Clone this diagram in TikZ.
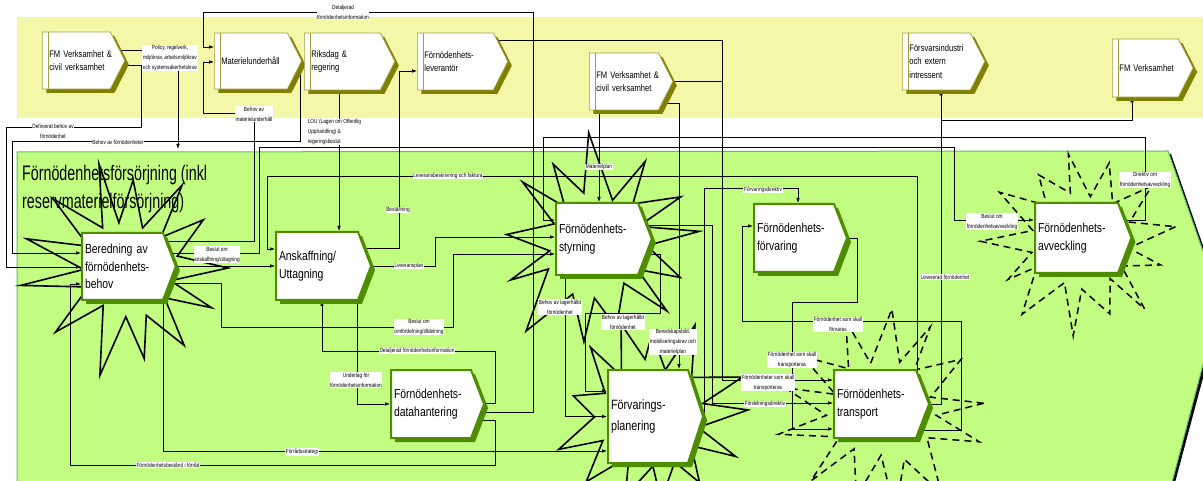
\documentclass[tikz,border=0pt]{standalone}
\usepackage{fontspec}
\newfontfamily\condsans{Liberation Sans}[FakeStretch=0.8]
\newfontfamily\titlesans{Liberation Sans}[FakeStretch=0.68]
\usetikzlibrary{shapes.symbols,shadows,arrows.meta}
\definecolor{bandyellow}{HTML}{F4F6A8}
\definecolor{groupgreen}{HTML}{C2FC80}
\definecolor{groupedge}{HTML}{5CC05C}
\definecolor{extedge}{HTML}{A0A040}
\definecolor{extshade}{HTML}{808000}
\definecolor{procedge}{HTML}{4E8C00}
\pgfdeclarelayer{back}
\pgfdeclarelayer{wires}
\pgfsetlayers{back,wires,main}
\tikzset{
  ext/.style={signal, signal to=east, signal from=nowhere, signal pointer angle=126,
    draw=extedge, line width=0.7pt, fill=white, anchor=west, inner xsep=7pt, inner ysep=1pt,
    align=left, font=\condsans\fontsize{9.5}{13.5}\selectfont,
    drop shadow={opacity=1, fill=extshade, shadow xshift=4pt, shadow yshift=-4pt}},
  proc/.style={signal, signal to=east, signal from=nowhere, signal pointer angle=138,
    draw=procedge, line width=2pt, fill=white, anchor=west, inner xsep=3pt, inner ysep=1pt,
    align=left, font=\condsans\fontsize{13}{17.5}\selectfont,
    drop shadow={opacity=1, fill=procedge, shadow xshift=4pt, shadow yshift=-4pt}},
  lbl/.style={fill=white, inner sep=0.6pt, align=center, font=\condsans\fontsize{6}{10}\selectfont},
  flow/.style={-{Latex[length=5pt,width=3.6pt]}, line width=0.7pt},
  burst/.style={line width=1.6pt},
  dburst/.style={line width=1.5pt, dash pattern=on 7pt off 5pt},
}
\begin{document}
\begin{tikzpicture}[x=1pt, y=-1pt]
  \useasboundingbox (0,0) rectangle (1203,481);

  \node[ext, text width=54pt, minimum height=57pt] (a1) at (42,60.5) {\mbox{FM Verksamhet \&}\\\mbox{civil verksamhet}};
  \node[ext, text width=59pt, minimum height=56pt] (a2) at (214,61) {\mbox{Materielunderhåll}};
  \node[ext, text width=62pt, minimum height=57pt] (a3) at (304,61.5) {\mbox{Riksdag \&}\\regering};
  \node[ext, text width=62pt, minimum height=57pt] (a4) at (417,61.5) {\mbox{Förnödenhets-}\\\mbox{leverantör}};
  \node[ext, text width=55pt, minimum height=57pt] (a5) at (589,81.5) {\mbox{FM Verksamhet \&}\\\mbox{civil verksamhet}};
  \node[ext, text width=54pt, minimum height=57pt] (a6) at (902,61.5) {\mbox{Försvarsindustri}\\\mbox{och extern}\\\mbox{intressent}};
  \node[ext, text width=52pt, minimum height=58pt] (a7) at (1112,68) {\mbox{FM Verksamhet}};
  \foreach \n in {a1,a2,a3,a4,a5,a6,a7}
    \draw[extedge, line width=0.7pt] ([xshift=6pt]\n.north west) -- ([xshift=6pt]\n.south west);

  \node[anchor=north west, inner sep=0pt, align=left, font=\titlesans\fontsize{21}{28}\selectfont] (title) at (22,165)
    {Förnödenhetsförsörjning (inkl\\reservmaterielförsörjning)};

  \node[proc, text width=75pt, minimum height=67pt] (p1) at (81,266.5) {\mbox{Beredning av}\\\mbox{förnödenhets-}\\behov};
  \node[proc, text width=76pt, minimum height=68pt] (p2) at (275,266) {\mbox{Anskaffning/}\\\mbox{Uttagning}};
  \node[proc, text width=76pt, minimum height=72pt] (p3) at (555,239) {\mbox{Förnödenhets-}\\\mbox{styrning}};
  \node[proc, text width=74pt, minimum height=68pt] (p4) at (753,238) {\mbox{Förnödenhets-}\\\mbox{förvaring}};
  \node[proc, text width=77pt, minimum height=70pt] (p5) at (1034,238) {\mbox{Förnödenhets-}\\\mbox{avveckling}};
  \node[proc, text width=74pt, minimum height=68pt] (p6) at (390,404) {\mbox{Förnödenhets-}\\\mbox{datahantering}};
  \node[proc, text width=74pt, minimum height=93pt, signal pointer angle=144,
        font=\condsans\fontsize{13.5}{21}\selectfont] (p7) at (607,416.5) {\mbox{Förvarings-}\\\mbox{planering}};
  \node[proc, text width=76pt, minimum height=68pt] (p8) at (833,404) {\mbox{Förnödenhets-}\\\mbox{transport}};

  \begin{pgfonlayer}{back}
    \fill[bandyellow] (17,17) rectangle (1210,118);
    \fill[black] (20,155) -- (1171,154) -- (1223,303) -- (1173,490) -- (20,490) -- cycle;
    \filldraw[fill=groupgreen, draw=groupedge, line width=1pt] (17,152) -- (1168,151) -- (1220,300) -- (1170,490) -- (17,490) -- cycle;
    \pgfmathsetseed{4}
    \draw[burst, shift={(128,268)}] (0:100) \foreach \i in {1,...,25}
      {-- ({\i*360/26+5*rand}:{isodd(\i)*(47+6*rand)+(1-isodd(\i))*(98+16*rand)})} -- cycle;
    \pgfmathsetseed{9}
    \draw[burst, shift={(596,244)}, rotate=7] (0:104) \foreach \i in {1,...,25}
      {-- ({\i*360/26+5*rand}:{isodd(\i)*(50+6*rand)+(1-isodd(\i))*(100+16*rand)})} -- cycle;
    \pgfmathsetseed{21}
    \draw[burst, shift={(652,415)}, rotate=3] (0:96) \foreach \i in {1,...,25}
      {-- ({\i*360/26+5*rand}:{isodd(\i)*(52+6*rand)+(1-isodd(\i))*(94+14*rand)})} -- cycle;
    \pgfmathsetseed{33}
    \draw[dburst, shift={(1082,242)}, xscale=.95, yscale=.88, rotate=10] (0:100) \foreach \i in {1,...,25}
      {-- ({\i*360/26+5*rand}:{isodd(\i)*(52+5*rand)+(1-isodd(\i))*(98+12*rand)})} -- cycle;
    \pgfmathsetseed{47}
    \draw[dburst, shift={(882,410)}, yscale=.95, rotate=4] (0:102) \foreach \i in {1,...,25}
      {-- ({\i*360/26+5*rand}:{isodd(\i)*(52+5*rand)+(1-isodd(\i))*(100+12*rand)})} -- cycle;
  \end{pgfonlayer}

  \begin{pgfonlayer}{wires}
    \draw[flow] ([yshift=10.5pt]a1.center) -| (178,149);
    \draw[flow] ([yshift=-4.5pt]a1.center) -| (141,127) -| (6,267) -- ([yshift=-0.5pt]p1.west);
    \draw[flow] (a2.center) -| (300,141) -| (12,253) -- ([yshift=13.5pt]p1.west);
    \draw[flow] ([yshift=25.5pt]p1.center) -| (254,113) -| (203,62) -- ([yshift=-1pt]a2.west);
    \draw[flow] ([yshift=-8pt]p6.center) -| (533,12) -| (203,47) -- ([yshift=14pt]a2.west);
    \draw[flow] ([yshift=-16pt]p6.center) -| (495,465) -| (70,284) -- ([yshift=-17.5pt]p1.west);
    \draw[flow] (p1.center |- p2.west) -- (p2.west);
    \draw[flow] ([yshift=13.5pt]p1.center) -| (259,147) -| (954,220) -- ([yshift=18pt]p5.west);
    \draw[flow] ([yshift=18pt]p5.center) -| (1145,137) -| (543,220) -- ([yshift=19pt]p3.west);
    \draw[flow] ([xshift=84pt]p8.west) |- (267,176) |- ([yshift=17pt]p2.west);
    \draw[flow] (p8.center) -| (a6.south -| 941,0);
    \coordinate (split) at (941,120);
    \draw[flow] (split) -| (a7.south -| 1132,0);
    \draw[flow] ([yshift=-26pt]p8.center) -| (961,321) -| (742,226) -- ([yshift=12pt]p4.west);
    \draw[flow] (p4.east) -| (857,302) -| (792,429) -- ([yshift=-25pt]p8.west);
    \draw[flow] ([yshift=21.5pt]a4.center) -| (722,380) -- ([yshift=24pt]p8.west);
    \draw[line width=0.7pt] (a5.east) -- (a5.east -| 722,0);
    \draw[flow] ([yshift=14pt]p3.center) -| (712,403) -- ([yshift=1pt]p8.west);
    \draw[flow] (p7.east) |- (798,188) -- (p4.north -| 798,0);
    \draw[flow] (a5.south -| 599,0) -- (p3.north -| 599,0);
    \draw[flow] ([yshift=-21.5pt]a5.center) -| (p7.north -| 679,0);
    \draw[flow] (a3.south -| 339,0) -- (p2.north -| 339,0);
    \draw[flow] ([yshift=18pt]p2.center) -| (399,71) -- ([yshift=-9.5pt]a4.west);
    \draw[flow] (p2.east) -| (435,237) -- ([yshift=2pt]p3.west);
    \draw[flow] ([yshift=-16.5pt]p1.center) -| (221,327) -| (453,254) -- ([yshift=-15pt]p3.west);
    \draw[flow] ([yshift=1pt]p6.center) -| (495,351) -| (p2.south -| 322,0);
    \draw[flow] (p2.south -| 357,0) |- (p6.west);
    \draw[flow] (p1.south -| 163,0) |- ([yshift=-34.5pt]p7.west);
    \draw[flow] (p3.south -| 565,0) |- (p7.west);
    \draw[flow] ([yshift=-15pt]p3.center) -| (660,313) -| (585,391) -- ([yshift=25.5pt]p7.west);
  \end{pgfonlayer}

  \node[lbl] (lpolicy) at (170,58) {Policy, regelverk,\\miljökrav, arbetsmiljökrav\\och systemsäkerhetskrav};
  \node[lbl] (ldefbehov) at (53,131) {Definierat behov av\\förnödenhet};
  \node[lbl] (lbehovforn) at (118,142) {Behov av förnödenheter};
  \node[lbl] (lbehovmat) at (254,114) {Behov av\\materielunderhåll};
  \node[lbl] (ldetalj) at (343,12.5) {Detaljerad\\förnödenhetsinformation};
  \node[lbl, anchor=west, align=left] (llou) at (307,132) {LOU (Lagen om Offentlig\\Upphandling) \&\\regeringsbeslut};
  \node[lbl] (lbest) at (398,210) {Beställning};
  \node[lbl] (llevbesk) at (448,176) {Leveransbeskrivning och faktura};
  \node[lbl] (lmatplan) at (599,167) {Materielplan};
  \node[lbl] (lforvdir) at (763,190) {Förvaringsdirektiv};
  \node[lbl] (lbeslavv) at (992,221.5) {Beslut om\\förnödenhetsavveckling};
  \node[lbl] (ldiravv) at (1145,180) {Direktiv om\\förnödenhetsavveckling};
  \node[lbl] (llevererad) at (945,277) {Levererad förnödenhet};
  \node[lbl] (lbeslansk) at (217,254.5) {Beslut om\\anskaffning/uttagning};
  \node[lbl] (llevplan) at (409,266) {Leveransplan};
  \node[lbl] (lomford) at (419,327) {Beslut om\\omfördelning/tilldelning};
  \node[lbl] (ldetalj2) at (417,351) {Detaljerad förnödenhetsinformation};
  \node[lbl] (lunderlag) at (356,380) {Underlag för\\förnödenhetsinformation};
  \node[lbl] (lstrategi) at (302,452) {Förrådsstrategi};
  \node[lbl] (lbestand) at (168,465) {Förnödenhetsbestånd i förråd};
  \node[lbl] (llager1) at (560,307) {Behov av lagerhålld\\förnödenhet};
  \node[lbl] (llager2) at (623,322) {Behov av lagerhålld\\förnödenhet};
  \node[lbl] (lberedskap) at (673,342) {Beredskapsbild,\\mobiliseringskrav och\\materielplan};
  \node[lbl] (lforvaras) at (838,324.5) {Förnödenhet som skall\\förvaras};
  \node[lbl] (ltransp1) at (792,360) {Förnödenhet som skall\\transporteras};
  \node[lbl] (ltransp2) at (768,382.5) {Förnödenheter som skall\\transporteras};
  \node[lbl] (lfordel) at (765,404) {Fördelningsdirektiv};
\end{tikzpicture}
\end{document}
